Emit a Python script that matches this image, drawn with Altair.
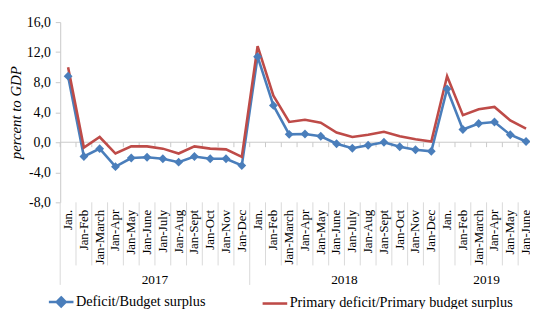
import altair as alt
import pandas as pd

months = ["Jan.", "Jan-Feb", "Jan-March", "Jan-Apr", "Jan-May", "Jan-June",
          "Jan-July", "Jan-Aug", "Jan-Sept", "Jan-Oct", "Jan-Nov", "Jan-Dec"]
years = ["2017", "2018", "2019"]
months_per_year = [12, 12, 6]

deficit = [8.8, -1.9, -0.85, -3.25, -2.1, -2.0, -2.2, -2.65, -1.9, -2.2, -2.2, -3.1,
           11.4, 4.9, 1.05, 1.1, 0.8, -0.2, -0.8, -0.4, 0.0, -0.6, -1.0, -1.2,
           7.1, 1.7, 2.5, 2.7, 1.0, 0.1]
primary = [10.0, -0.7, 0.7, -1.5, -0.55, -0.55, -0.85, -1.5, -0.55, -0.85, -0.95, -1.95,
           12.8, 6.2, 2.7, 3.0, 2.6, 1.3, 0.7, 1.0, 1.4, 0.8, 0.4, 0.1,
           8.8, 3.6, 4.4, 4.7, 2.9, 1.8]
y_ticks = [-8, -4, 0, 4, 8, 12, 16]

s1 = "Deficit/Budget surplus"
s2 = "Primary deficit/Primary budget surplus"
BLUE = "#4a7ebb"
RED = "#be4b48"
GREY = "#c9c9c9"
FONT = "Liberation Serif"

cats, yrs = [], []
for y, n in zip(years, months_per_year):
    cats += months[:n]
    yrs += [y] * n
idx = list(range(len(cats)))
N = len(cats)

long = pd.DataFrame({
    "idx": idx * 2,
    "cat": cats * 2,
    "series": [s1] * N + [s2] * N,
    "value": deficit + primary,
})

xs = alt.Scale(domain=[-0.5, N - 0.75], nice=False, zero=False)
ys = alt.Scale(domain=[-8, 16], nice=False, zero=False)
color_scale = alt.Scale(domain=[s1, s2], range=[BLUE, RED])

yaxis = alt.Axis(
    values=y_ticks,
    labelExpr="replace((datum.value < 0 ? '-' : '') + format(abs(datum.value), '.1f'), '.', ',')",
    grid=False, domainColor=GREY, tickColor=GREY, tickSize=5, labelPadding=5,
    labelFont=FONT, labelFontSize=14, labelColor="#000000",
    title="percent to GDP", titleFont=FONT, titleFontSize=15, titleFontStyle="italic",
    titleFontWeight="normal", titleColor="#000000", titlePadding=3)

legend = alt.Legend(
    title=None, orient="none", legendX=-13, legendY=270, direction="horizontal",
    symbolSize=625, symbolStrokeWidth=2.6, labelFont=FONT, labelFontSize=14.5,
    labelColor="#000000", labelLimit=400, labelOffset=1, columnPadding=52, padding=0)

diamond_line = "M-1,0L1,0M0,-0.36L0.36,0L0,0.36L-0.36,0Z"
plain_line = "M-1,0L1,0"


def Y(field):
    return alt.Y(field, scale=ys, axis=yaxis)


legend_layer = alt.Chart(long).transform_filter("false").mark_point(
    filled=True, strokeWidth=2.6, opacity=1).encode(
    x=alt.X("idx:Q", scale=xs, axis=None),
    y=Y("value:Q"),
    color=alt.Color("series:N", scale=color_scale, legend=legend),
    stroke=alt.Stroke("series:N", scale=color_scale, legend=legend),
    shape=alt.Shape("series:N", scale=alt.Scale(domain=[s1, s2], range=[diamond_line, plain_line]),
                    legend=legend))

zero = alt.Chart(pd.DataFrame({"value": [0]})).mark_rule(color=GREY, strokeWidth=1, clip=False).encode(
    y=Y("value:Q"))

group_starts = []
s = 0
for n in months_per_year:
    group_starts.append(s)
    s += n
bnd = pd.DataFrame({
    "b": [k - 0.5 for k in range(0, N + 1)],
    "is_group": [k in group_starts or k == N for k in range(0, N + 1)],
})
bnd["top"] = -8.0
bnd["bot"] = bnd["is_group"].map({True: -19.0, False: -16.4})
bnd["zt"] = 0.0
bnd["zb"] = -0.65

zero_ticks = alt.Chart(bnd).mark_rule(color=GREY, strokeWidth=1, clip=False).encode(
    x=alt.X("b:Q", scale=xs, axis=None),
    y=Y("zt:Q"), y2="zb:Q")

seps = alt.Chart(bnd).mark_rule(color="#d9d9d9", strokeWidth=1, clip=False).encode(
    x=alt.X("b:Q", scale=xs, axis=None),
    y=Y("top:Q"), y2="bot:Q")

catdf = pd.DataFrame({"idx": idx, "cat": cats, "ly": [-9.0] * N})
cat_text = alt.Chart(catdf).mark_text(angle=270, align="right", baseline="middle",
                                      font=FONT, fontSize=13, color="#000000", clip=False).encode(
    x=alt.X("idx:Q", scale=xs, axis=None),
    y=Y("ly:Q"),
    text="cat:N")

ydf = pd.DataFrame({"idx": idx, "year": yrs})
year_text = alt.Chart(ydf).transform_aggregate(
    cx="mean(idx)", groupby=["year"]
).transform_calculate(ly="-18.3").mark_text(
    align="center", baseline="middle", font=FONT, fontSize=13.5, color="#000000", clip=False).encode(
    x=alt.X("cx:Q", scale=xs, axis=None),
    y=Y("ly:Q"),
    text="year:N")

lines = alt.Chart(long).mark_line(strokeWidth=2.6, clip=False).encode(
    x=alt.X("idx:Q", scale=xs, axis=None),
    y=Y("value:Q"),
    color=alt.Color("series:N", scale=color_scale, legend=legend),
    detail="series:N")

points = alt.Chart(long).transform_filter(alt.datum.series == s1).mark_point(
    shape="diamond", filled=True, size=80, opacity=1, color=BLUE, clip=False).encode(
    x=alt.X("idx:Q", scale=xs, axis=None),
    y=Y("value:Q"))

chart = alt.layer(legend_layer, zero, zero_ticks, seps, cat_text, year_text, lines, points).properties(
    width=477, height=183,
    autosize=alt.AutoSizeParams(type="none"),
    padding={"left": 53, "top": 12, "right": 0, "bottom": 106},
    background="white",
).configure_view(stroke=None).configure_axis(
    labelFont=FONT, titleFont=FONT, labelFontSize=14, titleFontSize=15
).configure_legend(labelFont=FONT)

chart.save("out.html", embed_options={"renderer": "svg", "actions": False})
